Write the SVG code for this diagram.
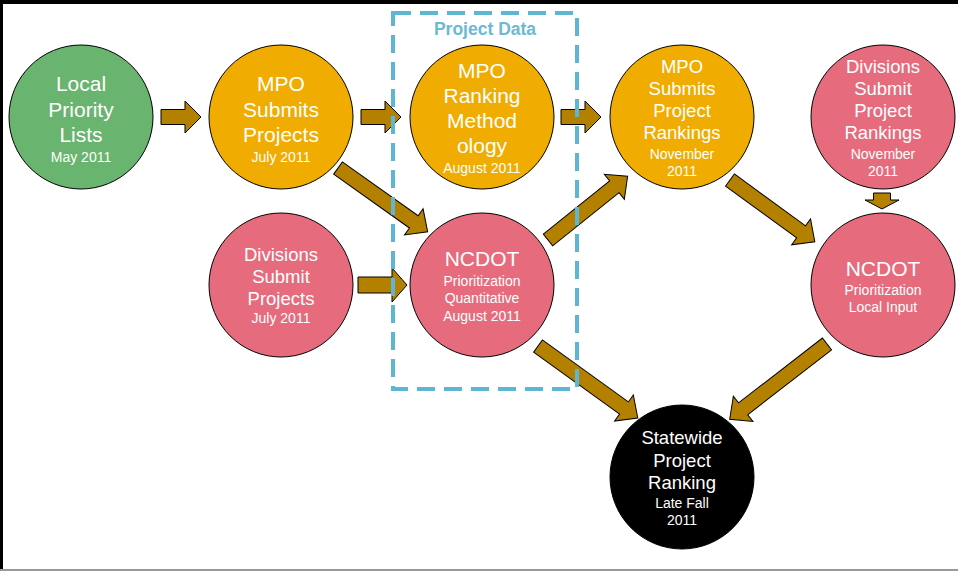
<svg xmlns="http://www.w3.org/2000/svg" width="958" height="571" viewBox="0 0 958 571">
<style>
text{font-family:"Liberation Sans",Arial,sans-serif;fill:#fff;text-anchor:middle}
.big{font-size:21px}
.mid{font-size:18.5px}
.sm{font-size:14px}
.node circle{stroke:#000;stroke-width:1}
.green{fill:#69B46E}
.orange{fill:#F0AC00}
.pink{fill:#E66C7D}
.black{fill:#000}
.arr{fill:#B38000;stroke:#000;stroke-width:1;stroke-linejoin:miter}
.box{fill:none;stroke:#5DB7D3;stroke-width:4;stroke-dasharray:18 9}
.title{font-size:17.5px;font-weight:bold;fill:#6CB9D3}
</style>
<rect x="0" y="0" width="958" height="571" fill="#fff"/>
<g id="frame">
<rect x="0" y="0" width="958" height="4" fill="#000"/>
<rect x="0" y="0" width="3" height="570" fill="#000"/>
<rect x="0" y="569" width="958" height="2" fill="#999"/>
</g>
<g id="node-local" class="node">
<circle class="green" cx="81" cy="117" r="72"/>
<text class="big" x="81" y="91">Local</text>
<text class="big" x="81" y="117">Priority</text>
<text class="big" x="81" y="142">Lists</text>
<text class="sm" x="81" y="162">May 2011</text>
</g>
<g id="node-mpo-submits" class="node">
<circle class="orange" cx="281" cy="117" r="72"/>
<text class="big" x="281" y="91">MPO</text>
<text class="big" x="281" y="117">Submits</text>
<text class="big" x="281" y="142">Projects</text>
<text class="sm" x="281" y="162">July 2011</text>
</g>
<g id="node-mpo-ranking" class="node">
<circle class="orange" cx="482" cy="117" r="72"/>
<text class="big" x="482" y="78">MPO</text>
<text class="big" x="482" y="103">Ranking</text>
<text class="big" x="482" y="128">Method</text>
<text class="big" x="482" y="153">ology</text>
<text class="sm" x="482" y="173">August 2011</text>
</g>
<g id="node-mpo-rankings" class="node">
<circle class="orange" cx="682" cy="117" r="72"/>
<text class="mid" x="682" y="73">MPO</text>
<text class="mid" x="682" y="95">Submits</text>
<text class="mid" x="682" y="117">Project</text>
<text class="mid" x="682" y="139">Rankings</text>
<text class="sm" x="682" y="159">November</text>
<text class="sm" x="682" y="176">2011</text>
</g>
<g id="node-div-rankings" class="node">
<circle class="pink" cx="883" cy="117" r="72"/>
<text class="mid" x="883" y="73">Divisions</text>
<text class="mid" x="883" y="95">Submit</text>
<text class="mid" x="883" y="117">Project</text>
<text class="mid" x="883" y="139">Rankings</text>
<text class="sm" x="883" y="159">November</text>
<text class="sm" x="883" y="176">2011</text>
</g>
<g id="node-div-projects" class="node">
<circle class="pink" cx="281" cy="285" r="72"/>
<text class="mid" x="281" y="261">Divisions</text>
<text class="mid" x="281" y="283">Submit</text>
<text class="mid" x="281" y="305">Projects</text>
<text class="sm" x="281" y="323">July 2011</text>
</g>
<g id="node-ncdot-quant" class="node">
<circle class="pink" cx="482" cy="285" r="72"/>
<text class="big" x="482" y="266">NCDOT</text>
<text class="sm" x="482" y="286">Prioritization</text>
<text class="sm" x="482" y="303">Quantitative</text>
<text class="sm" x="482" y="321">August 2011</text>
</g>
<g id="node-ncdot-local" class="node">
<circle class="pink" cx="883" cy="285" r="72"/>
<text class="big" x="883" y="276">NCDOT</text>
<text class="sm" x="883" y="295">Prioritization</text>
<text class="sm" x="883" y="312">Local Input</text>
</g>
<g id="node-statewide" class="node">
<circle class="black" cx="682" cy="477" r="72"/>
<text class="mid" x="682" y="444">Statewide</text>
<text class="mid" x="682" y="467">Project</text>
<text class="mid" x="682" y="489">Ranking</text>
<text class="sm" x="682" y="508">Late Fall</text>
<text class="sm" x="682" y="525">2011</text>
</g>
<g id="connectors">
<polygon class="arr" points="0,-7.5 24,-7.5 24,-16 40,0 24,16 24,7.5 0,7.5" transform="translate(161,117)"/>
<polygon class="arr" points="0,-7.5 24,-7.5 24,-16 40,0 24,16 24,7.5 0,7.5" transform="translate(361,117)"/>
<polygon class="arr" points="0,-7.5 24,-7.5 24,-16 40,0 24,16 24,7.5 0,7.5" transform="translate(561,117)"/>
<polygon class="arr" points="0,-8 34,-8 34,-17 49,0 34,17 34,8 0,8" transform="translate(358,285)"/>
<polygon class="arr" points="873.5,193 890.5,193 890.5,200 899,200 882,209 865,200 873.5,200"/>
<polygon class="arr" points="0,-7.5 93,-7.5 93,-16 110,0 93,16 93,7.5 0,7.5" transform="translate(338,168) rotate(35.4)"/>
<polygon class="arr" points="0,-7.5 85,-7.5 85,-16 102,0 85,16 85,7.5 0,7.5" transform="translate(548,240) rotate(-38.7)"/>
<polygon class="arr" points="0,-7.5 88,-7.5 88,-16 105,0 88,16 88,7.5 0,7.5" transform="translate(730,180) rotate(36.1)"/>
<polygon class="arr" points="0,-7.5 106,-7.5 106,-16 123,0 106,16 106,7.5 0,7.5" transform="translate(538,346) rotate(35.8)"/>
<polygon class="arr" points="0,-7.5 106,-7.5 106,-16 123,0 106,16 106,7.5 0,7.5" transform="translate(827,344) rotate(142.3)"/>
</g>
<g id="project-data">
<rect class="box" x="393" y="13" width="184" height="376"/>
<text class="title" x="485" y="35">Project Data</text>
</g>
</svg>
